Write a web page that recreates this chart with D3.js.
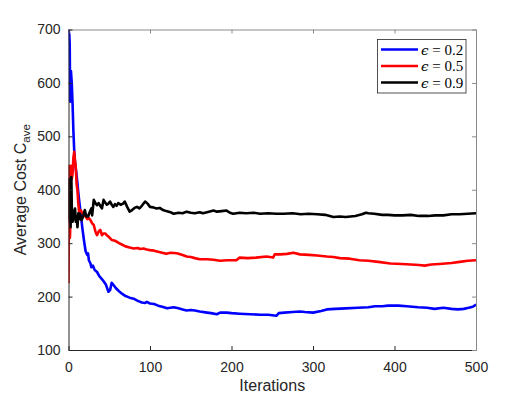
<!DOCTYPE html>
<html>
<head>
<meta charset="utf-8">
<script src="https://cdn.jsdelivr.net/npm/d3@7"></script>
<style>
  html, body { margin: 0; padding: 0; background: #fff; }
  svg { display: block; }
</style>
</head>
<body>
<svg id="chart" width="526" height="395"></svg>
<script>
// ---- data ----
const xTicks = [0, 100, 200, 300, 400, 500];
const yTicks = [100, 200, 300, 400, 500, 600, 700];
const seriesSymbol = "ϵ";
const seriesEps = ["0.2", "0.5", "0.9"];
const seriesColors = ["#0000ff", "#ff0000", "#000000"];

const blueIter = [0,1,1.5,2,2.5,3,4,5,6,7,8,10,12,13,15,17,19,21,23,24,25,27,28,30,32,35,38,42,46,49,51,53,55,58,62,66,70,75,80,85,90,94,96,100,105,110,115,121,125,129,135,140,145,150,155,161,170,175,182,186,194,200,210,223,235,245,255,258,265,275,284,290,300,310,317,327,340,355,368,376,385,392,405,415,429,440,449,460,470,478,485,491,496,500];
const blueCost = [700,690,672,565,600,622,600,560,510,474,450,427,395,381,355,328,305,285,278,281,268,262,255,258,250,246,238,231,222,209,212,226,222,216,210,205,201,198,196,192,189,188,190,187,186,183,181,178,179,180,178,176,174,175,174,172,170,169,167,170,170,169,168,167,166,166,164,169,170,171,172,171,170,173,176,177,178,179,180,182,182,183,183,182,180,179,177,179,177,176,177,179,181,185];

const redIter = [0,0.3,0.6,1,1.3,1.7,2,2.5,3,4,5,6,7,8,9,10,11,12,13,15,17,19,21,23,25,27,29,31,33,35,37,39,41,43,45,47,50,53,56,59,62,66,70,75,80,85,88,92,96,100,105,110,115,120,125,133,140,145,150,155,161,170,178,186,195,206,210,220,230,243,251,253,260,268,276,284,295,305,317,325,333,345,357,368,380,395,409,420,430,437,445,455,470,480,490,500];
const redCost = [225,300,445,440,340,310,320,400,445,420,430,460,471,455,440,410,399,375,359,362,356,353,350,345,347,343,337,334,322,315,322,325,315,318,318,315,311,306,305,303,300,297,294,292,290,291,289,290,288,287,286,284,282,280,282,281,278,275,274,272,270,270,269,267,268,268,273,272,273,275,273,279,279,280,282,279,278,277,275,274,272,271,268,267,265,262,261,260,259,258,260,261,263,265,267,268];

const blackIter = [0,0.5,1,1.5,2,2.5,3,3.5,4,5,6,7,8,9,10,11,12,13,14,16,18,20,22,24,26,28,29,31,33,35,37,39,41,43,45,47,49,51,53,55,57,59,61,64,67,69,72,75,78,81,84,87,90,94,97,100,104,108,112,116,120,125,129,135,140,145,150,155,161,165,170,178,182,188,194,198,202,210,218,227,235,245,255,264,275,285,295,305,315,325,333,340,352,360,365,368,375,385,392,400,410,420,430,441,450,460,470,480,490,500];
const blackCost = [345,360,420,340,387,330,365,424,370,340,360,345,365,340,350,330,356,345,355,343,350,362,350,350,358,365,352,381,375,371,375,370,365,381,376,372,374,378,372,368,373,370,375,372,374,378,368,359,362,366,368,365,370,378,374,368,367,365,366,362,360,358,355,357,356,359,357,356,358,356,358,361,359,360,361,357,355,357,356,357,355,356,355,355,356,354,355,354,353,349,350,349,351,354,357,356,355,353,353,352,352,353,351,351,352,352,354,354,355,356];

// ---- layout ----
const svg = d3.select("#chart");
const L = 68.5, R = 476, T = 29.5, B = 350;
const x = d3.scaleLinear().domain([0, 500]).range([L, R]);
const y = d3.scaleLinear().domain([100, 700]).range([B, T]);
const axisColor = "#262626";
const font = "'Liberation Sans', Arial, Helvetica, sans-serif";

svg.append("defs").append("clipPath").attr("id", "clip")
  .append("rect").attr("x", L).attr("y", T - 2).attr("width", R - L).attr("height", B - T + 2);

// series
const series = [
  { it: blueIter, v: blueCost },
  { it: redIter, v: redCost },
  { it: blackIter, v: blackCost }
];
const line = d3.line().x(d => x(d[0])).y(d => y(d[1]));
const plot = svg.append("g").attr("clip-path", "url(#clip)");
series.forEach((s, i) => {
  plot.append("path")
    .datum(s.it.map((t, k) => [t, s.v[k]]))
    .attr("d", line)
    .attr("fill", "none")
    .attr("stroke", seriesColors[i])
    .attr("stroke-width", 2.6)
    .attr("stroke-linejoin", "round");
});

// axes (MATLAB style, ticks inward, box on)
const tickLen = 4;
const gBottom = svg.append("g").attr("transform", `translate(0,${B})`)
  .call(d3.axisBottom(x).tickValues(xTicks).tickSizeInner(-tickLen).tickSizeOuter(0).tickPadding(12));
const gTop = svg.append("g").attr("transform", `translate(0,${T})`)
  .call(d3.axisTop(x).tickValues(xTicks).tickSizeInner(-tickLen).tickSizeOuter(0).tickFormat(""));
const gLeft = svg.append("g").attr("transform", `translate(${L},0)`)
  .call(d3.axisLeft(y).tickValues(yTicks).tickSizeInner(-tickLen).tickSizeOuter(0).tickPadding(8));
const gRight = svg.append("g").attr("transform", `translate(${R},0)`)
  .call(d3.axisRight(y).tickValues(yTicks).tickSizeInner(-tickLen).tickSizeOuter(0).tickFormat(""));

[gBottom, gTop, gLeft, gRight].forEach(g => {
  g.selectAll("path.domain").attr("stroke", axisColor).attr("stroke-width", 1);
  g.selectAll(".tick line").attr("stroke", axisColor).attr("stroke-width", 1);
  g.selectAll(".tick text").attr("fill", axisColor).style("font-family", font).style("font-size", "14px");
});
gTop.selectAll("path.domain, .tick line").attr("stroke", "#8a8a8a");
gRight.selectAll("path.domain, .tick line").attr("stroke", "#8a8a8a");

// axis labels
svg.append("text")
  .attr("x", (L + R) / 2).attr("y", 391)
  .attr("text-anchor", "middle")
  .attr("fill", axisColor)
  .style("font-family", font).style("font-size", "16px")
  .text("Iterations");

const yl = svg.append("text")
  .attr("transform", `translate(25.5,${(T + B) / 2}) rotate(-90)`)
  .attr("text-anchor", "middle")
  .attr("fill", axisColor)
  .style("font-family", font).style("font-size", "16px");
yl.append("tspan").text("Average Cost C");
yl.append("tspan").attr("dy", 4).style("font-size", "11.5px").text("ave");

// legend
const lg = svg.append("g");
lg.append("rect").attr("x", 377.5).attr("y", 39.5).attr("width", 88.5).attr("height", 53.5)
  .attr("fill", "#fff").attr("stroke", axisColor).attr("stroke-width", 0.8);
const rowY = [49.5, 66, 82.5];
seriesEps.forEach((val, i) => {
  lg.append("line").attr("x1", 381).attr("x2", 418).attr("y1", rowY[i]).attr("y2", rowY[i])
    .attr("stroke", seriesColors[i]).attr("stroke-width", 2.6);
  const t = lg.append("text").attr("x", 421).attr("y", rowY[i] + 5)
    .attr("fill", "#000")
    .style("font-family", "'DejaVu Serif', 'Liberation Serif', serif")
    .style("font-size", "13.5px");
  t.append("tspan").style("font-style", "italic").text(seriesSymbol);
  t.append("tspan").style("font-family", "'Liberation Serif', serif").style("font-size", "15px").text(" = " + val);
});
</script>
</body>
</html>
